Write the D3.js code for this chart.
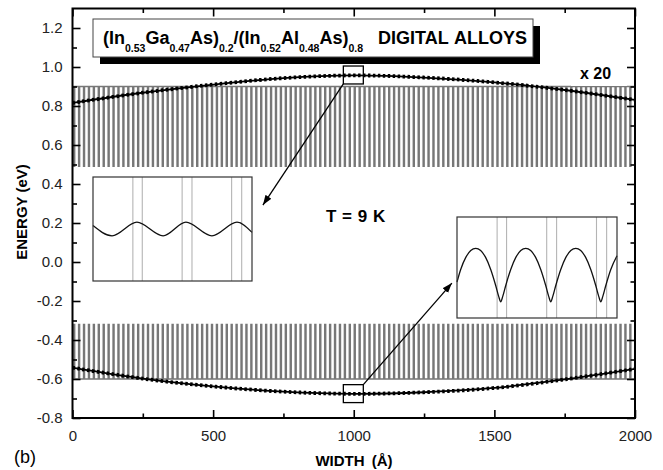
<!DOCTYPE html>
<html>
<head>
<meta charset="utf-8">
<script src="https://cdn.jsdelivr.net/npm/d3@7"></script>
<style>
body { margin: 0; background: #fff; }
svg { display: block; font-family: "Liberation Sans", Arial, Helvetica, sans-serif; }
</style>
</head>
<body>
<div class="chart"></div>
<script>
var svgWidth = 663;
var svgHeight = 470;

var margin = { top: 8.5, right: 28, bottom: 52, left: 72.5 };
var width = svgWidth - margin.left - margin.right;
var height = svgHeight - margin.top - margin.bottom;

// axis ticks
var xTicksMajor = [0, 500, 1000, 1500, 2000];
var xTicksMinor = [250, 750, 1250, 1750];
var yTicksMajor = [-0.8, -0.6, -0.4, -0.2, 0.0, 0.2, 0.4, 0.6, 0.8, 1.0, 1.2];
var yTicksMinor = [-0.7, -0.5, -0.3, -0.1, 0.1, 0.3, 0.5, 0.7, 0.9, 1.1];

// superlattice band edges (eV) and well starts (A)
var cbBarrier = 0.9;
var cbWell = 0.49;
var vbWell = -0.32;
var vbBarrier = -0.6;
var wellWidth = 4;
var wellStarts = [4, 21.5, 39, 56.5, 74, 91.5, 109, 126.5, 144, 161.5, 179, 196.5, 214, 231.5, 249, 266.5,
    284, 301.5, 319, 336.5, 354, 371.5, 389, 406.5, 424, 441.5, 459, 476.5, 494, 511.5, 529, 546.5,
    564, 581.5, 599, 616.5, 634, 651.5, 669, 686.5, 704, 721.5, 739, 756.5, 774, 791.5, 809, 826.5,
    844, 861.5, 879, 896.5, 914, 931.5, 949, 966.5, 984, 1001.5, 1019, 1036.5, 1054, 1071.5, 1089, 1106.5,
    1124, 1141.5, 1159, 1176.5, 1194, 1211.5, 1229, 1246.5, 1264, 1281.5, 1299, 1316.5, 1334, 1351.5,
    1369, 1386.5, 1404, 1421.5, 1439, 1456.5, 1474, 1491.5, 1509, 1526.5, 1544, 1561.5, 1579, 1596.5,
    1614, 1631.5, 1649, 1666.5, 1684, 1701.5, 1719, 1736.5, 1754, 1771.5, 1789, 1806.5, 1824, 1841.5,
    1859, 1876.5, 1894, 1911.5, 1929, 1946.5, 1964, 1981.5];

// envelope of |psi|^2 x 20
var envX = [0, 250, 500, 750, 1000, 1250, 1500, 1750, 2000];
var electronEnv = [0.816, 0.868, 0.910, 0.943, 0.957, 0.946, 0.921, 0.882, 0.831];
var holeEnv = [-0.542, -0.598, -0.638, -0.665, -0.676, -0.668, -0.646, -0.602, -0.548];

// zoom windows
var zoomRange = [963, 1034];
var electronZoomE = [0.913, 1.005];
var holeZoomE = [-0.721, -0.629];
var insetWells = [980.8, 985, 1002.8, 1007.2, 1024.9, 1029.4];

var electronInsetX = [963, 971.5, 982.6, 994.3, 1004.5, 1016.1, 1027.3, 1034];
var electronInsetY = [0.962, 0.953, 0.965, 0.953, 0.965, 0.953, 0.965, 0.956];

var holeInsetX = [963, 964.6, 966.9, 969.1, 971.3, 973.5, 975.7, 978.0, 980.2, 981.5, 982.4, 983.3, 984.6,
    986.8, 989.1, 991.3, 993.5, 995.7, 997.9, 1000.2, 1002.4, 1003.7, 1004.6, 1005.5, 1006.8,
    1009.0, 1011.3, 1013.5, 1015.7, 1017.9, 1020.1, 1022.4, 1024.6, 1025.9, 1026.8, 1027.7, 1029.0, 1031.2, 1034];
var holeInsetY = [-0.6882, -0.6770, -0.6658, -0.6595, -0.6575, -0.6595, -0.6658, -0.6770, -0.6916, -0.7013, -0.7062, -0.7013, -0.6916,
    -0.6770, -0.6658, -0.6595, -0.6575, -0.6595, -0.6658, -0.6770, -0.6916, -0.7013, -0.7062, -0.7013, -0.6916,
    -0.6770, -0.6658, -0.6595, -0.6575, -0.6595, -0.6658, -0.6770, -0.6916, -0.7013, -0.7062, -0.7013, -0.6916, -0.6770, -0.6643];

var svg = d3
    .select(".chart")
    .append("svg")
    .attr("width", svgWidth)
    .attr("height", svgHeight);

svg.append("defs").append("clipPath")
    .attr("id", "plotClip")
    .append("rect")
    .attr("width", width)
    .attr("height", height);

svg.select("defs").append("marker")
    .attr("id", "arrowHead")
    .attr("markerUnits", "userSpaceOnUse")
    .attr("viewBox", "0 -4 10 8")
    .attr("refX", 10)
    .attr("refY", 0)
    .attr("markerWidth", 10)
    .attr("markerHeight", 8)
    .attr("orient", "auto")
    .append("path")
    .attr("d", "M0,-3.5L10,0L0,3.5Z")
    .attr("fill", "#000");

var chartGroup = svg.append("g")
    .attr("transform", `translate(${margin.left}, ${margin.top})`);

var xScale = d3.scaleLinear().domain([0, 2000]).range([0, width]);
var yScale = d3.scaleLinear().domain([-0.8, 1.3]).range([height, 0]);

// band profiles
function profilePoints(barrier, well) {
    var pts = [[0, barrier]];
    wellStarts.forEach(function(w) {
        pts.push([w, barrier], [w, well], [w + wellWidth, well], [w + wellWidth, barrier]);
    });
    pts.push([2000, barrier]);
    return pts;
}

var profileLine = d3.line()
    .x(d => xScale(d[0]))
    .y(d => yScale(d[1]));

var plotArea = chartGroup.append("g")
    .attr("clip-path", "url(#plotClip)");

plotArea.append("path")
    .attr("d", profileLine(profilePoints(cbBarrier, cbWell)))
    .attr("fill", "none")
    .attr("stroke", "#777")
    .attr("stroke-width", 1.3);

plotArea.append("path")
    .attr("d", profileLine(profilePoints(vbBarrier, vbWell)))
    .attr("fill", "none")
    .attr("stroke", "#777")
    .attr("stroke-width", 1.3);

// envelopes
var envLine = d3.line()
    .x((d, i) => xScale(envX[i]))
    .y(d => yScale(d))
    .curve(d3.curveCatmullRom);

[electronEnv, holeEnv].forEach(function(env) {
    plotArea.append("path")
        .attr("d", envLine(env))
        .attr("fill", "none")
        .attr("stroke", "#000")
        .attr("stroke-width", 1.8);
    plotArea.append("path")
        .attr("d", envLine(env))
        .attr("fill", "none")
        .attr("stroke", "#000")
        .attr("stroke-width", 3.8)
        .attr("stroke-dasharray", "2.5 2.45");
});

// zoom boxes
[electronZoomE, holeZoomE].forEach(function(e) {
    chartGroup.append("rect")
        .attr("x", xScale(zoomRange[0]))
        .attr("y", yScale(e[1]))
        .attr("width", xScale(zoomRange[1]) - xScale(zoomRange[0]))
        .attr("height", yScale(e[0]) - yScale(e[1]))
        .attr("fill", "none")
        .attr("stroke", "#000")
        .attr("stroke-width", 1.3);
});

// arrows
chartGroup.append("line")
    .attr("x1", xScale(zoomRange[0]))
    .attr("y1", yScale(electronZoomE[0]))
    .attr("x2", xScale(677))
    .attr("y2", yScale(0.292))
    .attr("stroke", "#000")
    .attr("stroke-width", 1.3)
    .attr("marker-end", "url(#arrowHead)");

chartGroup.append("line")
    .attr("x1", xScale(zoomRange[1]))
    .attr("y1", yScale(holeZoomE[1]))
    .attr("x2", xScale(1349))
    .attr("y2", yScale(-0.108))
    .attr("stroke", "#000")
    .attr("stroke-width", 1.3)
    .attr("marker-end", "url(#arrowHead)");

// insets
function drawInset(x0, x1, y0, y1, eRange, xs, ys) {
    var ix = d3.scaleLinear().domain(zoomRange).range([x0, x1]);
    var iy = d3.scaleLinear().domain(eRange).range([y1, y0]);
    var g = svg.append("g");
    g.append("rect")
        .attr("x", x0)
        .attr("y", y0)
        .attr("width", x1 - x0)
        .attr("height", y1 - y0)
        .attr("fill", "#fff");
    g.selectAll(".wellLine")
        .data(insetWells)
        .enter()
        .append("line")
        .attr("x1", d => ix(d))
        .attr("x2", d => ix(d))
        .attr("y1", y0)
        .attr("y2", y1)
        .attr("stroke", "#b4b4b4")
        .attr("stroke-width", 1.1);
    g.append("path")
        .attr("d", d3.line()
            .x((d, i) => ix(xs[i]))
            .y(d => iy(d))
            .curve(d3.curveMonotoneX)(ys))
        .attr("fill", "none")
        .attr("stroke", "#111")
        .attr("stroke-width", 1.3);
    g.append("rect")
        .attr("x", x0)
        .attr("y", y0)
        .attr("width", x1 - x0)
        .attr("height", y1 - y0)
        .attr("fill", "none")
        .attr("stroke", "#333")
        .attr("stroke-width", 1.2);
}

drawInset(93, 252, 177, 281, electronZoomE, electronInsetX, electronInsetY);
drawInset(457, 617, 217, 318, holeZoomE, holeInsetX, holeInsetY);

// axes
function styleAxis(g) {
    g.select(".domain").remove();
    g.selectAll(".tick line").attr("stroke", "#000").attr("stroke-width", 1.6);
    g.selectAll(".tick text")
        .attr("fill", "#222")
        .style("font-size", "15px")
        .style("font-family", "'Liberation Sans', Arial, sans-serif");
}

chartGroup.append("g")
    .attr("transform", `translate(0, ${height})`)
    .call(d3.axisBottom(xScale).tickValues(xTicksMajor).tickSize(-8).tickPadding(12).tickFormat(d3.format("d")))
    .call(styleAxis);
chartGroup.append("g")
    .attr("transform", `translate(0, ${height})`)
    .call(d3.axisBottom(xScale).tickValues(xTicksMinor).tickSize(-4.5).tickFormat(""))
    .call(styleAxis);
chartGroup.append("g")
    .call(d3.axisTop(xScale).tickValues(xTicksMajor).tickSize(-8).tickFormat(""))
    .call(styleAxis);
chartGroup.append("g")
    .call(d3.axisTop(xScale).tickValues(xTicksMinor).tickSize(-4.5).tickFormat(""))
    .call(styleAxis);

chartGroup.append("g")
    .call(d3.axisLeft(yScale).tickValues(yTicksMajor).tickSize(-8).tickPadding(10).tickFormat(d => d.toFixed(1)))
    .call(styleAxis);
chartGroup.append("g")
    .call(d3.axisLeft(yScale).tickValues(yTicksMinor).tickSize(-4.5).tickFormat(""))
    .call(styleAxis);
chartGroup.append("g")
    .attr("transform", `translate(${width}, 0)`)
    .call(d3.axisRight(yScale).tickValues(yTicksMajor).tickSize(-8).tickFormat(""))
    .call(styleAxis);
chartGroup.append("g")
    .attr("transform", `translate(${width}, 0)`)
    .call(d3.axisRight(yScale).tickValues(yTicksMinor).tickSize(-4.5).tickFormat(""))
    .call(styleAxis);

chartGroup.append("rect")
    .attr("width", width)
    .attr("height", height)
    .attr("fill", "none")
    .attr("stroke", "#000")
    .attr("stroke-width", 2);

// title box with shadow
svg.append("rect")
    .attr("x", 100)
    .attr("y", 26)
    .attr("width", 440)
    .attr("height", 38)
    .attr("fill", "#000");
svg.append("rect")
    .attr("x", 93)
    .attr("y", 19)
    .attr("width", 440)
    .attr("height", 38)
    .attr("fill", "#fff")
    .attr("stroke", "#444")
    .attr("stroke-width", 1);

var title = svg.append("text")
    .attr("x", 103)
    .attr("y", 44)
    .attr("font-weight", "bold")
    .attr("font-size", "18px")
    .attr("fill", "#000");

var titleParts = [["(In", false], ["0.53", true], ["Ga", false], ["0.47", true], ["As)", false], ["0.2", true],
    ["/(In", false], ["0.52", true], ["Al", false], ["0.48", true], ["As)", false], ["0.8", true]];
var down = false;
titleParts.forEach(function(p) {
    var t = title.append("tspan").text(p[0]);
    if (p[1]) {
        t.attr("font-size", "10.5px").attr("dy", down ? 0 : 8);
        down = true;
    } else {
        t.attr("dy", down ? -8 : 0);
        down = false;
    }
});

svg.append("text")
    .attr("x", 378)
    .attr("y", 44)
    .attr("font-weight", "bold")
    .attr("font-size", "18px")
    .text("DIGITAL");
svg.append("text")
    .attr("x", 527)
    .attr("y", 44)
    .attr("text-anchor", "end")
    .attr("font-weight", "bold")
    .attr("font-size", "18px")
    .text("ALLOYS");

// labels in plot
svg.append("rect")
    .attr("x", 571)
    .attr("y", 62)
    .attr("width", 56)
    .attr("height", 24)
    .attr("fill", "#fff");
svg.append("text")
    .attr("x", 580)
    .attr("y", 79)
    .attr("font-weight", "bold")
    .attr("font-size", "16px")
    .text("x 20");

svg.append("text")
    .attr("x", 326)
    .attr("y", 222)
    .attr("font-weight", "bold")
    .attr("font-size", "17px")
    .attr("word-spacing", "1px")
    .text("T = 9 K");

// axis titles
svg.append("text")
    .attr("transform", "translate(27, 212) rotate(-90)")
    .attr("text-anchor", "middle")
    .attr("font-weight", "bold")
    .attr("font-size", "15px")
    .text("ENERGY (eV)");

svg.append("text")
    .attr("x", 354)
    .attr("y", 466)
    .attr("text-anchor", "middle")
    .attr("font-weight", "bold")
    .attr("font-size", "15px")
    .attr("word-spacing", "3px")
    .text("WIDTH (Å)");

svg.append("text")
    .attr("x", 14)
    .attr("y", 463)
    .attr("font-size", "18px")
    .text("(b)");
</script>
</body>
</html>
